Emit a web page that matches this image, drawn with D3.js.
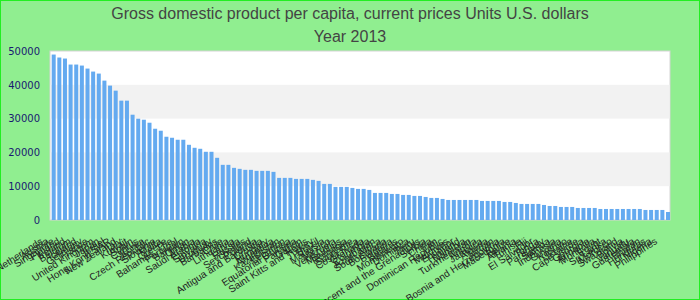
<!DOCTYPE html>
<html>
<head>
<meta charset="utf-8">
<script src="https://cdn.jsdelivr.net/npm/d3@7"></script>
<style>
  body { margin: 0; background: #90ee90; }
</style>
</head>
<body>
<div id="chart"></div>
<script>
// titles
const titleLines = ["Gross domestic product per capita, current prices Units U.S. dollars", "Year 2013"];

// countries, sorted high to low
const countries = [
  "Netherlands", "Austria", "Singapore", "Finland", "Ireland", "Belgium", "Iceland", "Germany", "France", "United Kingdom",
  "Japan", "Israel", "Hong Kong SAR", "New Zealand", "Italy", "Kuwait", "Spain", "Cyprus", "Korea", "Czech Republic",
  "Slovenia", "Malta", "Greece", "Bahamas, The", "Portugal", "Bahrain", "Oman", "Saudi Arabia", "Estonia", "Slovakia",
  "Uruguay", "Barbados", "Chile", "Lithuania", "Latvia", "Russia", "Seychelles", "Poland", "Antigua and Barbuda", "Croatia",
  "Hungary", "Argentina", "Kazakhstan", "Lebanon", "Equatorial Guinea", "Panama", "Gabon", "Saint Kitts and Nevis", "Turkey", "Brazil",
  "Malaysia", "Mexico", "Venezuela", "Mauritius", "Romania", "Suriname", "Costa Rica", "Grenada", "Colombia", "Azerbaijan",
  "South Africa", "Botswana", "Bulgaria", "Belarus", "Montenegro", "Dominica", "Peru", "Saint Vincent and the Grenadines", "Serbia", "China",
  "Iran", "Dominican Republic", "Maldives", "Ecuador", "Thailand", "Namibia", "Turkmenistan", "Angola", "Jamaica", "Algeria",
  "Jordan", "Bosnia and Herzegovina", "Macedonia", "Belize", "Albania", "Tunisia", "Fiji", "El Salvador", "Tonga", "Paraguay",
  "Samoa", "Indonesia", "Guyana", "Kosovo", "Ukraine", "Cape Verde", "Georgia", "Armenia", "Mongolia", "Egypt",
  "Sri Lanka", "Morocco", "Swaziland", "Bolivia", "Vanuatu", "Guatemala", "Bhutan", "Honduras", "Nigeria", "Philippines"
];

// GDP per capita, U.S. dollars
const gdp = [
  48950, 48070, 47770, 45990, 45990, 45690, 44800, 43910, 43320, 41240,
  39760, 38270, 35310, 35310, 31150, 29970, 29670, 28780, 27000, 26410,
  24630, 24330, 23740, 23740, 22250, 21360, 21070, 20180, 20180, 18400,
  16320, 16320, 15430, 15130, 14840, 14840, 14540, 14540, 14540, 14240,
  12460, 12460, 12460, 12160, 12160, 12160, 11870, 11570, 10680, 10680,
  9790, 9790, 9790, 9490, 9200, 9200, 8900, 8010, 8010, 8010,
  7710, 7710, 7420, 7420, 7120, 7120, 6820, 6530, 6530, 6230,
  5930, 5930, 5930, 5930, 5930, 5930, 5640, 5640, 5640, 5640,
  5340, 5340, 5040, 4750, 4750, 4750, 4750, 4450, 4150, 4150,
  3860, 3860, 3860, 3560, 3560, 3560, 3560, 3260, 3260, 3260,
  3260, 3260, 3260, 3260, 3260, 2970, 2970, 2970, 2970, 2370
];

const yTicks = [0, 10000, 20000, 30000, 40000, 50000];

const W = 700, H = 300;
const margin = { top: 51, right: 30, bottom: 80, left: 50 },
    width = W - margin.left - margin.right,
    height = H - margin.top - margin.bottom;

const svg = d3.select("#chart")
    .append("svg")
    .attr("width", W)
    .attr("height", H)
    .style("display", "block");

// page background + border
svg.append("rect")
    .attr("x", 0.5).attr("y", 0.5)
    .attr("width", W - 1).attr("height", H - 1)
    .attr("fill", "#90ee90")
    .attr("stroke", "#22ee22");

// title
svg.append("g")
    .selectAll("text")
    .data(titleLines)
    .join("text")
    .attr("x", W / 2)
    .attr("y", (d, i) => 18.5 + i * 23)
    .attr("text-anchor", "middle")
    .style("font-family", "'Liberation Sans', Arial, sans-serif")
    .style("font-size", "16px")
    .style("fill", "#444")
    .text(d => d);

const g = svg.append("g")
    .attr("transform", `translate(${margin.left}, ${margin.top})`);

const x = d3.scaleBand()
    .domain(countries)
    .range([0, width])
    .paddingInner(0.29)
    .paddingOuter(0.15)
    .align(1);

const y = d3.scaleLinear()
    .domain([0, 50000])
    .range([height, 0]);

// plot background with alternating bands
g.append("rect")
    .attr("width", width)
    .attr("height", height)
    .attr("fill", "#fff")
    .attr("stroke", "#d4d4d4");

g.append("g")
    .selectAll("rect")
    .data(d3.pairs(yTicks).filter((d, i) => i % 2 === 1))
    .join("rect")
    .attr("x", 0.5)
    .attr("width", width - 1)
    .attr("y", d => y(d[1]))
    .attr("height", d => y(d[0]) - y(d[1]))
    .attr("fill", "#f2f2f2");

// y axis, labels only
const yAxis = g.append("g")
    .call(d3.axisLeft(y).tickValues(yTicks).tickSize(0).tickPadding(10).tickFormat(d3.format("d")));
yAxis.select(".domain").remove();
yAxis.selectAll("text")
    .style("font-family", "'DejaVu Sans', sans-serif")
    .style("font-size", "10px")
    .style("fill", "#191970");

// bars
g.append("g")
    .selectAll("rect")
    .data(countries)
    .join("rect")
    .attr("x", d => x(d))
    .attr("width", x.bandwidth())
    .attr("y", (d, i) => y(gdp[i]))
    .attr("height", (d, i) => height - y(gdp[i]))
    .attr("fill", "#64aaf0");

// x axis, rotated labels only
const xAxis = g.append("g")
    .attr("transform", `translate(0, ${height})`)
    .call(d3.axisBottom(x).tickSize(0));
xAxis.select(".domain").remove();
xAxis.selectAll("text")
    .attr("x", 0).attr("y", 0).attr("dy", null)
    .attr("transform", "translate(-10, 23) rotate(-33)")
    .style("text-anchor", "end")
    .style("font-family", "'Liberation Sans', Arial, sans-serif")
    .style("font-size", "10px")
    .style("fill", "#222");
</script>
</body>
</html>
